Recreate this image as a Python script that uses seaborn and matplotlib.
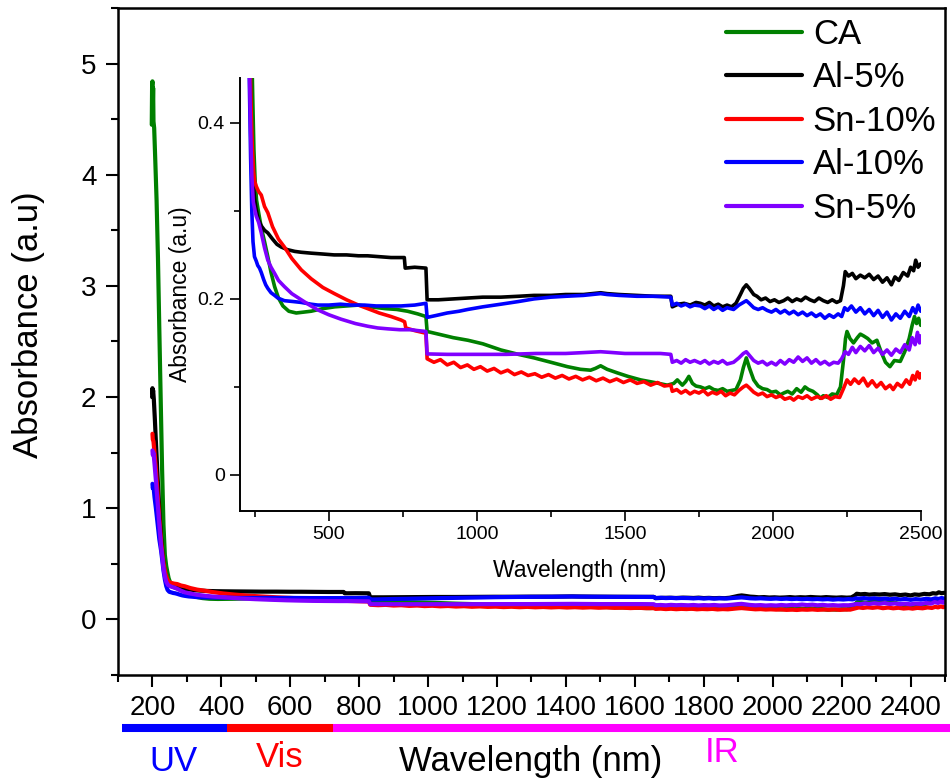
"""
UV-Vis-NIR absorbance spectra of CA and doped films, with zoomed inset
"""
import numpy as np
import pandas as pd
import matplotlib
matplotlib.use('Agg')
import matplotlib.pyplot as plt
import seaborn as sns
from matplotlib.lines import Line2D
from matplotlib.ticker import MultipleLocator, FuncFormatter

# ---- data (wavelength in nm, absorbance in a.u) ----
ca_wl = [198, 199, 200, 201, 202, 203, 205, 208, 212, 216, 220, 224, 228, 232, 236, 240, 243, 247, 251, 256,
         264, 272, 283, 294, 305, 317, 330, 345, 365, 390, 415, 440, 480, 520, 560, 600, 640, 690, 730, 766,
         800, 828, 832, 870, 920, 970, 1020, 1081, 1140, 1193, 1250, 1306, 1350, 1384, 1400, 1418, 1440, 1474,
         1510, 1553, 1600, 1643, 1665, 1677, 1694, 1705, 1716, 1728, 1740, 1755, 1770, 1785, 1800, 1815, 1830,
         1845, 1860, 1875, 1890, 1900, 1910, 1920, 1935, 1950, 1965, 1980, 1995, 2010, 2025, 2036, 2050, 2065,
         2080, 2095, 2108, 2120, 2135, 2150, 2160, 2170, 2185, 2200, 2215, 2228, 2238, 2245, 2250, 2260, 2272,
         2285, 2295, 2306, 2320, 2335, 2351, 2365, 2380, 2395, 2410, 2430, 2445, 2460, 2470, 2478, 2485, 2492, 2499]
ca_abs = [4.45, 4.80, 4.84, 4.62, 4.78, 4.48, 4.42, 4.15, 3.77, 3.25, 2.60, 1.97, 1.35, 0.85, 0.58, 0.48, 0.43, 0.37, 0.335, 0.312,
          0.296, 0.281, 0.265, 0.248, 0.230, 0.214, 0.201, 0.192, 0.186, 0.184, 0.185, 0.186, 0.189, 0.191, 0.192, 0.193, 0.191, 0.189, 0.188, 0.186,
          0.183, 0.180, 0.163, 0.160, 0.156, 0.153, 0.149, 0.142, 0.137, 0.133, 0.128, 0.123, 0.120, 0.119, 0.121, 0.124, 0.120, 0.116,
          0.112, 0.108, 0.105, 0.102, 0.104, 0.108, 0.102, 0.106, 0.112, 0.104, 0.101, 0.100, 0.098, 0.100, 0.097, 0.096, 0.098,
          0.095, 0.096, 0.097, 0.108, 0.122, 0.133, 0.122, 0.108, 0.101, 0.098, 0.097, 0.094, 0.095, 0.091, 0.093, 0.095, 0.092,
          0.098, 0.094, 0.100, 0.097, 0.095, 0.091, 0.087, 0.090, 0.088, 0.092, 0.091, 0.100, 0.130, 0.155, 0.163, 0.155, 0.150,
          0.156, 0.160, 0.158, 0.155, 0.150, 0.153, 0.140, 0.128, 0.123, 0.130, 0.129, 0.140, 0.155, 0.170, 0.180, 0.172, 0.178, 0.170]

al5_wl = [199, 200, 201, 202, 204, 207, 210, 215, 220, 225, 230, 234, 238, 242, 246, 250, 255, 262, 272, 283,
          294, 310, 325, 339, 360, 385, 407, 440, 480, 518, 560, 600, 631, 670, 710, 755, 758, 790, 828, 832,
          870, 920, 969, 1020, 1081, 1140, 1193, 1250, 1300, 1360, 1418, 1440, 1480, 1540, 1600, 1655, 1660,
          1680, 1700, 1720, 1740, 1755, 1770, 1785, 1800, 1815, 1830, 1845, 1860, 1875, 1890, 1900, 1910, 1920,
          1935, 1946, 1960, 1975, 1990, 2005, 2020, 2036, 2050, 2065, 2080, 2095, 2110, 2125, 2140, 2155, 2170,
          2185, 2200, 2215, 2228, 2238, 2244, 2255, 2268, 2280, 2295, 2310, 2325, 2340, 2355, 2370, 2385, 2400,
          2412, 2425, 2440, 2455, 2465, 2475, 2482, 2490, 2499]
al5_abs = [2.00, 2.08, 2.03, 2.06, 1.98, 1.80, 1.60, 1.28, 0.98, 0.74, 0.56, 0.46, 0.39, 0.35, 0.325, 0.312, 0.301, 0.290, 0.283, 0.278,
           0.275, 0.268, 0.262, 0.259, 0.256, 0.254, 0.253, 0.252, 0.251, 0.250, 0.250, 0.249, 0.249, 0.248, 0.247, 0.247, 0.235, 0.236, 0.235, 0.199,
           0.199, 0.200, 0.201, 0.202, 0.202, 0.203, 0.204, 0.204, 0.205, 0.205, 0.207, 0.206, 0.205, 0.204, 0.203, 0.203, 0.191,
           0.194, 0.195, 0.193, 0.196, 0.195, 0.193, 0.196, 0.192, 0.194, 0.191, 0.193, 0.191, 0.195, 0.205, 0.212, 0.216, 0.212,
           0.205, 0.203, 0.199, 0.201, 0.197, 0.199, 0.196, 0.198, 0.201, 0.197, 0.200, 0.198, 0.202, 0.199, 0.197, 0.201, 0.198,
           0.196, 0.199, 0.196, 0.198, 0.215, 0.231, 0.226, 0.229, 0.223, 0.227, 0.224, 0.228, 0.222, 0.226, 0.219, 0.224, 0.216,
           0.225, 0.221, 0.230, 0.226, 0.236, 0.232, 0.244, 0.236, 0.240]

sn10_wl = [200, 201, 203, 206, 210, 215, 220, 225, 230, 234, 238, 242, 246, 250, 255, 263, 272, 283, 294, 310,
           330, 350, 375, 407, 440, 480, 519, 560, 600, 631, 670, 710, 744, 756, 760, 790, 828, 832, 855, 877,
           900, 922, 945, 968, 990, 1012, 1035, 1058, 1081, 1104, 1127, 1150, 1173, 1196, 1219, 1242, 1265, 1288,
           1311, 1334, 1357, 1380, 1403, 1426, 1449, 1472, 1495, 1518, 1541, 1564, 1587, 1610, 1633, 1655, 1660,
           1675, 1690, 1705, 1720, 1735, 1750, 1765, 1780, 1795, 1810, 1825, 1840, 1855, 1870, 1885, 1900, 1910,
           1920, 1935, 1950, 1965, 1980, 1995, 2010, 2025, 2040, 2058, 2070, 2085, 2100, 2115, 2130, 2149, 2165,
           2180, 2195, 2210, 2225, 2238, 2250, 2262, 2275, 2290, 2305, 2320, 2335, 2350, 2365, 2380, 2395, 2406,
           2420, 2435, 2450, 2462, 2472, 2480, 2488, 2495, 2499]
sn10_abs = [1.67, 1.62, 1.60, 1.50, 1.35, 1.12, 0.90, 0.70, 0.55, 0.47, 0.41, 0.37, 0.345, 0.333, 0.328, 0.322, 0.318, 0.305, 0.298, 0.282,
            0.268, 0.259, 0.246, 0.233, 0.223, 0.213, 0.206, 0.199, 0.193, 0.189, 0.184, 0.180, 0.176, 0.174, 0.167, 0.164, 0.161, 0.132, 0.128, 0.131,
            0.125, 0.128, 0.122, 0.125, 0.120, 0.123, 0.118, 0.121, 0.116, 0.119, 0.114, 0.117, 0.113, 0.115, 0.111, 0.114, 0.110, 0.113,
            0.109, 0.112, 0.108, 0.111, 0.107, 0.110, 0.106, 0.109, 0.105, 0.108, 0.104, 0.106, 0.102, 0.105, 0.101, 0.102, 0.095,
            0.097, 0.093, 0.096, 0.092, 0.095, 0.093, 0.096, 0.091, 0.094, 0.092, 0.095, 0.090, 0.093, 0.091, 0.096, 0.100, 0.102,
            0.099, 0.094, 0.091, 0.093, 0.089, 0.091, 0.088, 0.090, 0.086, 0.088, 0.085, 0.089, 0.087, 0.090, 0.086, 0.089, 0.087,
            0.090, 0.086, 0.089, 0.088, 0.098, 0.108, 0.103, 0.109, 0.104, 0.110, 0.101, 0.107, 0.100, 0.105, 0.098, 0.102, 0.097,
            0.104, 0.100, 0.108, 0.103, 0.113, 0.108, 0.117, 0.110, 0.115]

al10_wl = [200, 201, 203, 206, 210, 215, 220, 225, 229, 232, 236, 240, 244, 249, 255, 260, 266, 272, 280, 287,
           294, 305, 317, 328, 350, 380, 407, 440, 463, 500, 540, 575, 620, 660, 700, 744, 790, 828, 832, 860,
           900, 940, 969, 1020, 1081, 1140, 1193, 1250, 1300, 1360, 1418, 1440, 1480, 1540, 1600, 1655, 1660,
           1675, 1690, 1705, 1720, 1735, 1755, 1770, 1785, 1800, 1815, 1830, 1845, 1867, 1885, 1900, 1910, 1920,
           1935, 1950, 1965, 1980, 1995, 2010, 2025, 2040, 2055, 2070, 2085, 2100, 2115, 2130, 2145, 2160, 2175,
           2190, 2205, 2220, 2232, 2242, 2252, 2265, 2280, 2295, 2310, 2325, 2340, 2355, 2370, 2385, 2400, 2415,
           2430, 2445, 2460, 2472, 2482, 2490, 2499]
al10_abs = [1.22, 1.18, 1.20, 1.10, 1.00, 0.86, 0.72, 0.62, 0.52, 0.44, 0.36, 0.30, 0.265, 0.248, 0.243, 0.238, 0.235, 0.230, 0.222, 0.216,
            0.212, 0.207, 0.204, 0.201, 0.198, 0.197, 0.196, 0.194, 0.193, 0.193, 0.194, 0.193, 0.193, 0.192, 0.192, 0.192, 0.193, 0.195, 0.179, 0.181,
            0.184, 0.186, 0.188, 0.191, 0.194, 0.197, 0.200, 0.202, 0.203, 0.204, 0.206, 0.205, 0.204, 0.203, 0.203, 0.202, 0.193,
            0.195, 0.192, 0.194, 0.191, 0.193, 0.192, 0.189, 0.192, 0.188, 0.191, 0.187, 0.190, 0.188, 0.193, 0.196, 0.198, 0.195,
            0.190, 0.188, 0.190, 0.187, 0.185, 0.188, 0.184, 0.187, 0.183, 0.186, 0.182, 0.185, 0.181, 0.184, 0.180, 0.183, 0.178,
            0.182, 0.179, 0.183, 0.180, 0.190, 0.187, 0.192, 0.185, 0.190, 0.183, 0.188, 0.181, 0.187, 0.179, 0.185, 0.176, 0.183,
            0.178, 0.186, 0.180, 0.190, 0.184, 0.193, 0.186]

sn5_wl = [200, 201, 203, 206, 210, 215, 220, 225, 229, 232, 236, 240, 245, 251, 255, 263, 272, 283, 294, 305,
          317, 330, 350, 375, 407, 435, 463, 500, 541, 590, 631, 665, 699, 740, 778, 800, 828, 832, 900, 1000,
          1100, 1200, 1300, 1360, 1418, 1460, 1500, 1560, 1620, 1655, 1660, 1675, 1690, 1705, 1720, 1735, 1755,
          1770, 1785, 1800, 1815, 1830, 1845, 1867, 1885, 1900, 1910, 1920, 1935, 1950, 1965, 1980, 1995, 2010,
          2025, 2040, 2055, 2070, 2085, 2100, 2115, 2130, 2145, 2160, 2175, 2190, 2205, 2220, 2232, 2244, 2255,
          2268, 2280, 2295, 2310, 2325, 2340, 2355, 2370, 2385, 2400, 2415, 2430, 2445, 2460, 2470, 2480, 2488,
          2495, 2499]
sn5_abs = [1.52, 1.48, 1.50, 1.40, 1.25, 1.05, 0.85, 0.66, 0.55, 0.46, 0.39, 0.34, 0.31, 0.30, 0.294, 0.287, 0.275, 0.258, 0.244, 0.236,
           0.229, 0.221, 0.214, 0.206, 0.199, 0.193, 0.1875, 0.182, 0.177, 0.172, 0.169, 0.167, 0.166, 0.165, 0.165, 0.164, 0.163, 0.1375, 0.137, 0.137,
           0.137, 0.138, 0.138, 0.139, 0.140, 0.139, 0.138, 0.138, 0.138, 0.137, 0.128, 0.130, 0.127, 0.131, 0.128, 0.130, 0.127,
           0.130, 0.126, 0.129, 0.127, 0.130, 0.126, 0.128, 0.133, 0.138, 0.140, 0.136, 0.130, 0.127, 0.129, 0.125, 0.128, 0.125,
           0.130, 0.126, 0.131, 0.128, 0.134, 0.129, 0.133, 0.127, 0.131, 0.126, 0.129, 0.125, 0.128, 0.127, 0.132, 0.140, 0.137,
           0.145, 0.139, 0.146, 0.141, 0.147, 0.139, 0.144, 0.137, 0.142, 0.136, 0.143, 0.139, 0.148, 0.142, 0.156, 0.148, 0.162,
           0.150, 0.158]

samples = ['CA', 'Al-5%', 'Sn-10%', 'Al-10%', 'Sn-5%']
colors = ['#008000', '#000000', '#ff0000', '#0000ff', '#8000ff']

# long table for seaborn
parts = []
for name, wl, ab in zip(samples,
                        [ca_wl, al5_wl, sn10_wl, al10_wl, sn5_wl],
                        [ca_abs, al5_abs, sn10_abs, al10_abs, sn5_abs]):
    parts.append(pd.DataFrame({'wl': wl, 'abs': ab, 'sample': name}))
df = pd.concat(parts, ignore_index=True)
palette = dict(zip(samples, colors))

sns.set_style('ticks', {'axes.edgecolor': 'black', 'xtick.color': 'black', 'ytick.color': 'black',
                        'text.color': 'black', 'axes.labelcolor': 'black'})
plt.rcParams['font.family'] = ['Liberation Sans', 'DejaVu Sans']

fig = plt.figure(figsize=(9.5, 7.81), dpi=100)
ax = fig.add_axes([0.1242, 0.1357, 0.8705, 0.8541])
ins = fig.add_axes([0.2526, 0.3457, 0.7169, 0.5544])

# main panel
sns.lineplot(data=df, x='wl', y='abs', hue='sample', hue_order=samples, palette=palette,
             estimator=None, sort=False, lw=3, ax=ax, legend=False)
ax.set_xlim(100, 2500)
ax.set_ylim(-0.5, 5.5)
ax.xaxis.set_major_locator(MultipleLocator(200))
ax.xaxis.set_minor_locator(MultipleLocator(100))
ax.yaxis.set_major_locator(MultipleLocator(1))
ax.yaxis.set_minor_locator(MultipleLocator(0.5))
ax.tick_params(which='major', direction='out', length=8.5, width=1.5, labelsize=20)
ax.tick_params(which='minor', direction='out', length=5, width=1.5)
ax.tick_params(axis='x', which='major', pad=6)
ax.tick_params(axis='y', which='major', pad=7)
ax.set_xlabel('')
ax.set_ylabel('')
for s in ax.spines.values():
    s.set_linewidth(1.8)

# UV / Vis / IR bands under the axis
trans = ax.get_xaxis_transform()
for x0, x1, c in [(111, 415, '#0000ff'), (415, 725, '#ff0000'), (725, 2522, '#ff00ff')]:
    ax.plot([x0, x1], [-0.0787, -0.0787], color=c, lw=5.8, solid_capstyle='butt',
            transform=trans, clip_on=False)
ax.text(262, -0.1435, 'UV', color='#0000ff', fontsize=25, ha='center', va='baseline', transform=trans)
ax.text(569, -0.138, 'Vis', color='#ff0000', fontsize=25, ha='center', va='baseline', transform=trans)
ax.text(1854, -0.130, 'IR', color='#ff00ff', fontsize=25, ha='center', va='baseline', transform=trans)

fig.text(531 / 950, 1 - 771 / 781, 'Wavelength (nm)', fontsize=25, ha='center', va='baseline')
fig.text(29 / 950, 1 - 324.5 / 781, 'Absorbance (a.u)', fontsize=25, ha='center', va='center', rotation=90)

# inset
sns.lineplot(data=df, x='wl', y='abs', hue='sample', hue_order=samples, palette=palette,
             estimator=None, sort=False, lw=2.6, ax=ins, legend=False)
ins.set_facecolor('none')
ins.set_xlim(200, 2500)
ins.set_ylim(-0.041, 0.451)
ins.xaxis.set_major_locator(MultipleLocator(500))
ins.xaxis.set_minor_locator(MultipleLocator(250))
ins.yaxis.set_major_locator(MultipleLocator(0.2))
ins.yaxis.set_minor_locator(MultipleLocator(0.1))
ins.yaxis.set_major_formatter(FuncFormatter(lambda v, p: '0' if abs(v) < 1e-9 else f'{v:.1f}'))
ins.tick_params(which='major', direction='out', length=7, width=1.2, labelsize=14, pad=4)
ins.tick_params(which='minor', direction='out', length=4, width=1.2)
sns.despine(ax=ins)
for s in ['left', 'bottom']:
    ins.spines[s].set_linewidth(1.4)
ins.set_xlabel('')
ins.set_ylabel('')
fig.text(580 / 950, 1 - 576.7 / 781, 'Wavelength (nm)', fontsize=16.5, ha='center', va='baseline')
fig.text(181 / 950, 1 - 294.5 / 781, 'Absorbance (a.u)', fontsize=16.5, ha='center', va='center', rotation=90)

# legend
handles = [Line2D([], [], color=c, lw=3) for c in colors]
fig.legend(handles, samples, loc='upper left', bbox_to_anchor=(726 / 950, 1 - 18 / 781),
           frameon=False, fontsize=25, handlelength=2.2, handletextpad=0.3,
           labelspacing=0.3, borderpad=0, borderaxespad=0)

plt.savefig('out.png', dpi=100)
